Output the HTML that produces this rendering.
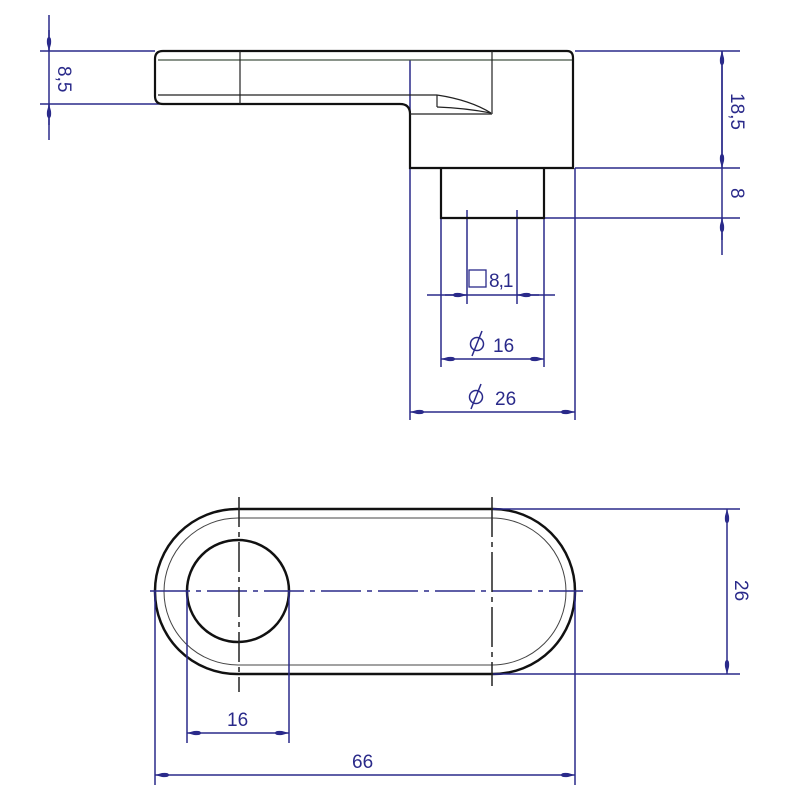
<!DOCTYPE html>
<html><head><style>body{margin:0;background:#fff}svg{display:block}</style></head><body>
<svg width="800" height="800" viewBox="0 0 800 800" xmlns="http://www.w3.org/2000/svg">
<defs>
<marker id="a" viewBox="0 0 14 7" refX="14" refY="3.5" markerWidth="14" markerHeight="7" orient="auto-start-reverse" markerUnits="userSpaceOnUse"><path d="M14,3.5 L7,1.5 Q0,0.8 0,3.5 Q0,6.2 7,5.5 Z" fill="#2a2a8a"/></marker>
</defs>
<g fill="none" stroke="#2a2a8a" stroke-width="1.5">
<line x1="49" y1="15" x2="49" y2="140"/>
<line x1="49" y1="30" x2="49" y2="51" marker-end="url(#a)"/>
<line x1="49" y1="125" x2="49" y2="104" marker-end="url(#a)"/>
<line x1="40" y1="51" x2="155" y2="51"/>
<line x1="40" y1="104" x2="160" y2="104"/>
<line x1="575" y1="51" x2="740" y2="51"/>
<line x1="575" y1="168" x2="740" y2="168"/>
<line x1="544" y1="218" x2="740" y2="218"/>
<line x1="722" y1="51" x2="722" y2="255"/>
<line x1="722" y1="168" x2="722" y2="51" marker-start="url(#a)" marker-end="url(#a)"/>
<line x1="722" y1="240" x2="722" y2="218" marker-end="url(#a)"/>
<line x1="410" y1="60" x2="410" y2="420"/>
<line x1="575" y1="168" x2="575" y2="420"/>
<line x1="441" y1="218" x2="441" y2="367"/>
<line x1="544" y1="218" x2="544" y2="367"/>
<line x1="467" y1="210" x2="467" y2="304"/>
<line x1="517" y1="210" x2="517" y2="304"/>
<line x1="427" y1="295" x2="555" y2="295"/>
<line x1="445" y1="295" x2="467" y2="295" marker-end="url(#a)"/>
<line x1="539" y1="295" x2="517" y2="295" marker-end="url(#a)"/>
<line x1="441" y1="359" x2="544" y2="359" marker-start="url(#a)" marker-end="url(#a)"/>
<line x1="410" y1="412" x2="575" y2="412" marker-start="url(#a)" marker-end="url(#a)"/>
<rect x="469" y="270" width="17" height="17" stroke-width="1.3"/>
<circle cx="477" cy="344" r="6.5"/><line x1="472" y1="356" x2="482" y2="331"/>
<circle cx="476" cy="397" r="6.5"/><line x1="471" y1="409" x2="481" y2="384"/>
</g>
<g font-family="Liberation Sans, sans-serif" fill="#2a2a8a" font-size="19">
<text x="489" y="287" letter-spacing="-1">8,1</text>
<text x="493" y="352">16</text>
<text x="495" y="405">26</text>
<text transform="translate(58,66) rotate(90)">8,5</text>
<text transform="translate(731,93) rotate(90)">18,5</text>
<text transform="translate(731,188) rotate(90)">8</text>
<text x="227" y="726">16</text>
<text x="352" y="768">66</text>
<text transform="translate(735,580) rotate(90)">26</text>
</g>
<g fill="none" stroke="#111" stroke-width="2.2">
<path d="M163,51 L567,51 Q573,51 573,58 L573,168 L410,168 L410,114 Q410,104 400,104 L163,104 Q155,104 155,96 L155,59 Q155,51 163,51 Z"/>
<path d="M441,168 L441,218 L544,218 L544,168"/>
</g>
<g fill="none" stroke="#222" stroke-width="1.2">
<line x1="158" y1="60" x2="572" y2="60" stroke="#445544"/>
<line x1="158" y1="95" x2="437" y2="95"/>
<line x1="240" y1="51" x2="240" y2="104"/>
<line x1="492" y1="51" x2="492" y2="114"/>
<line x1="410" y1="114" x2="492" y2="114"/>
<line x1="437" y1="95" x2="437" y2="107"/>
<path d="M437,95 Q470,100 491,113"/>
<path d="M437,107 Q465,108 491,113"/>
</g>
<g fill="none" stroke="#111" stroke-width="2.5">
<rect x="155" y="509" width="420" height="165" rx="82" ry="82"/>
<circle cx="238" cy="591" r="51"/>
</g>
<rect x="164" y="518" width="402" height="147" rx="74" ry="74" fill="none" stroke="#444" stroke-width="1"/>
<g fill="none" stroke="#2a2a8a" stroke-width="1.5">
<line x1="150" y1="591" x2="583" y2="591" stroke-dasharray="40,6,5,6"/>
<line x1="239" y1="497" x2="239" y2="692" stroke="#222" stroke-dasharray="30,5,5,5"/>
<line x1="492" y1="497" x2="492" y2="686" stroke="#222" stroke-dasharray="40,5,5,5"/>
<line x1="493" y1="509" x2="740" y2="509"/>
<line x1="493" y1="674" x2="740" y2="674"/>
<line x1="727" y1="509" x2="727" y2="674" marker-start="url(#a)" marker-end="url(#a)"/>
<line x1="187" y1="591" x2="187" y2="743"/>
<line x1="289" y1="591" x2="289" y2="743"/>
<line x1="155" y1="591" x2="155" y2="785"/>
<line x1="575" y1="591" x2="575" y2="785"/>
<line x1="187" y1="733" x2="289" y2="733" marker-start="url(#a)" marker-end="url(#a)"/>
<line x1="155" y1="775" x2="575" y2="775" marker-start="url(#a)" marker-end="url(#a)"/>
</g>
</svg>
</body></html>
